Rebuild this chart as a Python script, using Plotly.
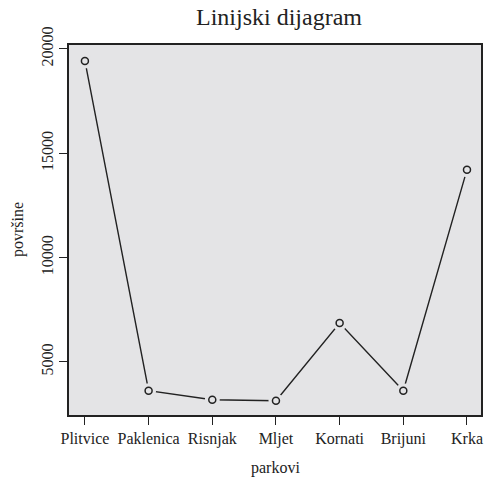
import plotly.graph_objects as go

parkovi = ["Plitvice", "Paklenica", "Risnjak", "Mljet", "Kornati", "Brijuni", "Krka"]
povrsine = [19425, 3625, 3194, 3146, 6869, 3625, 14216]
y_ticks = [5000, 10000, 15000, 20000]

BG = "#E4E4E6"
INK = "#222222"
FONT = "Liberation Serif"

W, H = 486, 478

xs = list(range(1, len(parkovi) + 1))

fig = go.Figure()
fig.add_trace(go.Scatter(x=xs, y=povrsine, mode="lines",
                         line=dict(color=INK, width=1.4), hoverinfo="skip"))
fig.add_trace(go.Scatter(x=xs, y=povrsine, mode="markers",
                         marker=dict(size=15, color=BG, line=dict(width=0)), hoverinfo="skip"))
fig.add_trace(go.Scatter(x=xs, y=povrsine, mode="markers",
                         marker=dict(size=7, color=BG, line=dict(color=INK, width=1.5))))

fig.update_layout(
    width=W, height=H,
    margin=dict(l=69, r=3, t=45, b=63),
    paper_bgcolor="white", plot_bgcolor=BG,
    showlegend=False,
    font=dict(family=FONT, color=INK, size=16),
    title=dict(text="Linijski dijagram", x=279 / W, xanchor="center",
               y=1 - 17 / H, yanchor="middle", yref="container",
               font=dict(family=FONT, size=24, color=INK)),
    annotations=[
        dict(text="parkovi", xref="paper", yref="paper", x=0.5, y=0,
             xanchor="center", yanchor="middle", yshift=-53, showarrow=False,
             font=dict(family=FONT, size=16, color=INK)),
        dict(text="površine", xref="paper", yref="paper", x=0, y=0.5,
             xanchor="center", yanchor="middle", xshift=-51, textangle=-90,
             showarrow=False, font=dict(family=FONT, size=16, color=INK)),
    ],
)
fig.update_xaxes(
    range=[0.75, 7.22], tickmode="array", tickvals=xs, ticktext=parkovi,
    ticks="outside", ticklen=8, tickwidth=1.2, tickcolor=INK,
    showgrid=False, zeroline=False, showline=True, mirror=True, linecolor=INK, linewidth=1.5,
    tickfont=dict(size=16),
)
fig.update_yaxes(
    range=[2460, 20190], tickmode="array", tickvals=y_ticks, ticktext=[str(v) for v in y_ticks],
    tickangle=-90,
    ticks="outside", ticklen=8, tickwidth=1.2, tickcolor=INK,
    showgrid=False, zeroline=False, showline=True, mirror=True, linecolor=INK, linewidth=1.5,
    tickfont=dict(size=16),
)

fig.write_html("out.html", config={"displayModeBar": False},
               post_script="document.body.style.margin='0px';document.body.style.overflow='hidden';")
